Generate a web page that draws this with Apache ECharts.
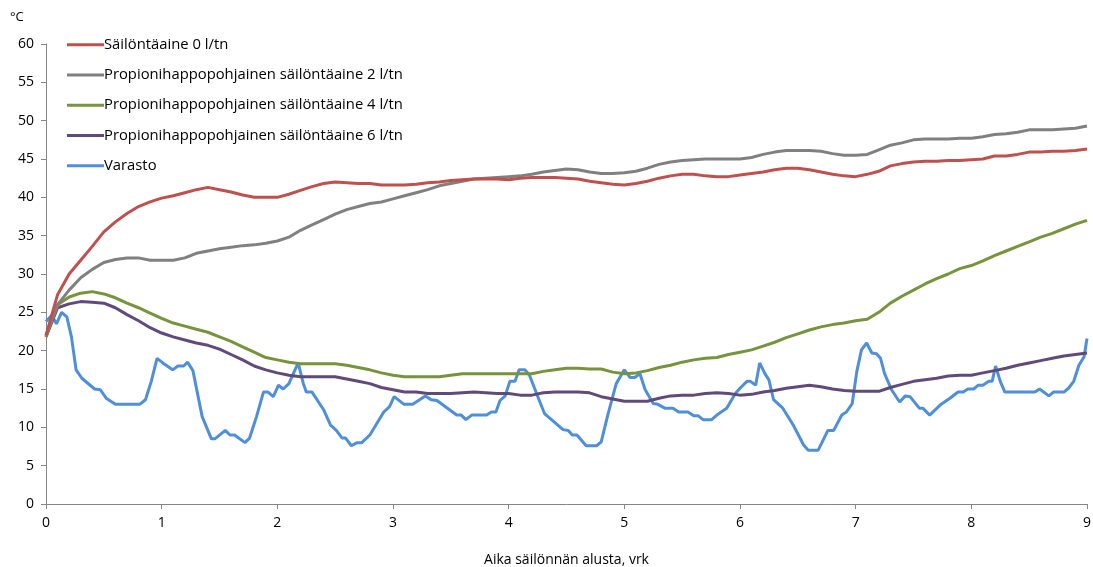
<!DOCTYPE html>
<html>
<head>
<meta charset="utf-8">
<script src="https://cdn.jsdelivr.net/npm/echarts@6/dist/echarts.min.js"></script>
<style>html,body{margin:0;padding:0;background:#fff}#c{width:1093px;height:567px}</style>
</head>
<body>
<div id="c"></div>
<script>
var xStep = [0,0.1,0.2,0.3,0.4,0.5,0.6,0.7,0.8,0.9,1,1.1,1.2,1.3,1.4,1.5,1.6,1.7,1.8,1.9,2,2.1,2.2,2.3,2.4,2.5,2.6,2.7,2.8,2.9,3,3.1,3.2,3.3,3.4,3.5,3.6,3.7,3.8,3.9,4,4.1,4.2,4.3,4.4,4.5,4.6,4.7,4.8,4.9,5,5.1,5.2,5.3,5.4,5.5,5.6,5.7,5.8,5.9,6,6.1,6.2,6.3,6.4,6.5,6.6,6.7,6.8,6.9,7,7.1,7.2,7.3,7.4,7.5,7.6,7.7,7.8,7.9,8,8.1,8.2,8.3,8.4,8.5,8.6,8.7,8.8,8.9,9];

var s0 = [22,27.3,30.0,31.8,33.6,35.5,36.8,37.9,38.8,39.4,39.9,40.2,40.6,41.0,41.3,41.0,40.7,40.3,40.0,40.0,40.0,40.4,40.9,41.4,41.8,42.0,41.9,41.8,41.8,41.6,41.6,41.6,41.7,41.9,42.0,42.2,42.3,42.4,42.4,42.4,42.3,42.5,42.6,42.6,42.6,42.5,42.4,42.1,41.9,41.7,41.6,41.8,42.1,42.5,42.8,43.0,43.0,42.8,42.7,42.7,42.9,43.1,43.3,43.6,43.8,43.8,43.6,43.3,43.0,42.8,42.7,43.0,43.4,44.1,44.4,44.6,44.7,44.7,44.8,44.8,44.9,45.0,45.4,45.4,45.6,45.9,45.9,46.0,46.0,46.1,46.3];

var s2 = [22,26.0,27.9,29.5,30.6,31.5,31.9,32.1,32.1,31.8,31.8,31.8,32.1,32.7,33.0,33.3,33.5,33.7,33.8,34.0,34.3,34.8,35.7,36.4,37.1,37.8,38.4,38.8,39.2,39.4,39.8,40.2,40.6,41.0,41.5,41.8,42.1,42.4,42.5,42.6,42.7,42.8,43.0,43.3,43.5,43.7,43.6,43.3,43.1,43.1,43.2,43.4,43.8,44.3,44.6,44.8,44.9,45.0,45.0,45.0,45.0,45.2,45.6,45.9,46.1,46.1,46.1,46.0,45.7,45.5,45.5,45.6,46.2,46.8,47.1,47.5,47.6,47.6,47.6,47.7,47.7,47.9,48.2,48.3,48.5,48.8,48.8,48.8,48.9,49.0,49.3];

var s4 = [21.8,26.0,27.0,27.5,27.7,27.4,26.9,26.2,25.6,24.9,24.2,23.6,23.2,22.8,22.4,21.8,21.2,20.5,19.8,19.1,18.8,18.5,18.3,18.3,18.3,18.3,18.1,17.8,17.5,17.1,16.8,16.6,16.6,16.6,16.6,16.8,17.0,17.0,17.0,17.0,17.0,17.0,17.0,17.3,17.5,17.7,17.7,17.6,17.6,17.2,17.0,17.1,17.4,17.8,18.1,18.5,18.8,19.0,19.1,19.5,19.8,20.1,20.6,21.1,21.7,22.2,22.7,23.1,23.4,23.6,23.9,24.1,25.0,26.2,27.1,27.9,28.7,29.4,30.0,30.7,31.1,31.7,32.4,33.0,33.6,34.2,34.8,35.3,35.9,36.5,37.0];

var s6 = [21.8,25.6,26.1,26.4,26.3,26.2,25.6,24.7,23.9,23.0,22.3,21.8,21.4,21.0,20.7,20.2,19.5,18.8,18.0,17.5,17.1,16.8,16.6,16.6,16.6,16.6,16.3,16.0,15.7,15.2,14.9,14.6,14.6,14.4,14.4,14.4,14.5,14.6,14.5,14.4,14.4,14.2,14.2,14.5,14.6,14.6,14.6,14.5,14.0,13.7,13.4,13.4,13.4,13.8,14.1,14.2,14.2,14.4,14.5,14.4,14.2,14.3,14.6,14.8,15.1,15.3,15.5,15.3,15.0,14.8,14.7,14.7,14.7,15.2,15.6,16.0,16.2,16.4,16.7,16.8,16.8,17.1,17.4,17.7,18.1,18.4,18.7,19.0,19.3,19.5,19.7];

var vx = [0,0.05,0.09,0.135,0.18,0.22,0.26,0.31,0.42,0.47,0.52,0.6,0.81,0.86,0.91,0.96,1.01,1.095,1.14,1.19,1.225,1.27,1.35,1.43,1.46,1.55,1.59,1.63,1.72,1.76,1.82,1.88,1.92,1.965,2.01,2.05,2.1,2.18,2.225,2.25,2.3,2.4,2.46,2.51,2.56,2.59,2.64,2.69,2.73,2.8,2.92,2.97,3.01,3.095,3.17,3.28,3.33,3.38,3.55,3.59,3.63,3.68,3.81,3.85,3.89,3.925,3.97,4.01,4.055,4.09,4.14,4.18,4.27,4.31,4.37,4.47,4.515,4.55,4.59,4.67,4.76,4.8,4.86,4.93,5.0,5.05,5.09,5.135,5.18,5.25,5.29,5.35,5.42,5.47,5.55,5.6,5.64,5.68,5.755,5.8,5.885,5.96,6.0,6.06,6.09,6.135,6.17,6.215,6.25,6.29,6.37,6.46,6.55,6.59,6.675,6.76,6.81,6.88,6.92,6.97,7.01,7.05,7.095,7.14,7.18,7.215,7.25,7.31,7.38,7.43,7.47,7.55,7.58,7.64,7.73,7.815,7.885,7.93,7.97,8.02,8.06,8.1,8.15,8.18,8.21,8.25,8.29,8.55,8.59,8.67,8.71,8.8,8.84,8.885,8.93,8.975,9.0];
var vy = [23.8,24.6,23.5,25.0,24.4,21.8,17.5,16.4,15.0,14.9,13.8,13.0,13.0,13.6,16.0,19.0,18.4,17.5,18.0,18.0,18.5,17.4,11.4,8.5,8.5,9.6,9.0,9.0,8.0,8.6,11.4,14.6,14.6,14.0,15.5,15.0,15.7,18.4,15.7,14.6,14.6,12.3,10.3,9.6,8.6,8.6,7.6,8.0,8.0,9.0,12.0,12.7,14.0,13.0,13.0,14.1,13.6,13.5,11.6,11.6,11.0,11.6,11.6,12.0,12.0,13.5,14.1,16.0,16.0,17.5,17.5,16.8,13.3,11.8,11.0,9.7,9.6,9.0,9.0,7.6,7.6,8.1,11.8,15.7,17.5,16.5,16.5,17.0,14.9,13.1,13.0,12.5,12.5,12.0,12.0,11.5,11.5,11.0,11.0,11.6,12.5,14.4,15.1,16.0,16.0,15.5,18.4,17.0,16.2,13.6,12.5,10.3,7.7,7.0,7.0,9.6,9.6,11.6,12.0,13.1,17.3,20.1,21.0,19.7,19.6,19.0,17.0,14.9,13.3,14.1,14.0,12.5,12.5,11.6,12.9,13.8,14.6,14.6,15.0,15.0,15.5,15.5,16.0,16.0,18.0,16.0,14.6,14.6,15.0,14.1,14.6,14.6,15.1,16.0,18.1,19.2,21.6];

var seriesNames = ['Säilöntäaine 0 l/tn','Propionihappopohjainen säilöntäaine 2 l/tn','Propionihappopohjainen säilöntäaine 4 l/tn','Propionihappopohjainen säilöntäaine 6 l/tn','Varasto'];
var xTicks = [0,1,2,3,4,5,6,7,8,9];
var yTicks = [0,5,10,15,20,25,30,35,40,45,50,55,60];

var colors = ['#C0504D','#808080','#77933C','#604A7B','#4F8FD9'];
function pairs(xs, ys){ return xs.map(function(x,i){return [x, ys[i]];}); }
var datas = [pairs(xStep,s0), pairs(xStep,s2), pairs(xStep,s4), pairs(xStep,s6), pairs(vx,vy)];

var font = 'Open Sans';
var chart = echarts.init(document.getElementById('c'), null, {renderer:'canvas'});
chart.setOption({
  animation: false,
  color: colors,
  grid: {left:46, right:6, top:44, bottom:63, containLabel:false, outerBoundsMode:'none'},
  legend: {
    orient:'vertical', left:67, top:35, padding:0,
    icon:'rect', itemWidth:37, itemHeight:3, itemGap:11,
    textStyle:{fontFamily:font, fontSize:14.8, color:'#000', padding:[0,0,0,-5], lineHeight:19.3},
    data: seriesNames
  },
  xAxis: {
    type:'value', min:xTicks[0], max:xTicks[xTicks.length-1], interval:1,
    name:'Aika säilönnän alusta, vrk', nameLocation:'middle', nameGap:49,
    nameTextStyle:{fontFamily:font, fontSize:14, color:'#000'},
    axisLine:{show:true, lineStyle:{color:'#868686', width:1}},
    axisTick:{show:true, length:5, lineStyle:{color:'#868686'}},
    axisLabel:{fontFamily:font, fontSize:14, color:'#000', margin:12},
    splitLine:{show:false}
  },
  yAxis: {
    type:'value', min:yTicks[0], max:yTicks[yTicks.length-1], interval:5,
    name:'°C', nameLocation:'end', nameGap:20,
    nameTextStyle:{fontFamily:font, fontSize:13, color:'#000', align:'left', padding:[0,0,0,-36]},
    axisLine:{show:true, lineStyle:{color:'#868686', width:1}},
    axisTick:{show:true, length:5, lineStyle:{color:'#868686'}},
    axisLabel:{fontFamily:font, fontSize:14, color:'#000', margin:12},
    splitLine:{show:false}
  },
  series: datas.map(function(d,i){
    return {name:seriesNames[i], type:'line', data:d, showSymbol:false, symbol:'none',
      lineStyle:{width:3, color:colors[i]}, itemStyle:{color:colors[i]}, z: 10-i};
  })
});
</script>
</body>
</html>
